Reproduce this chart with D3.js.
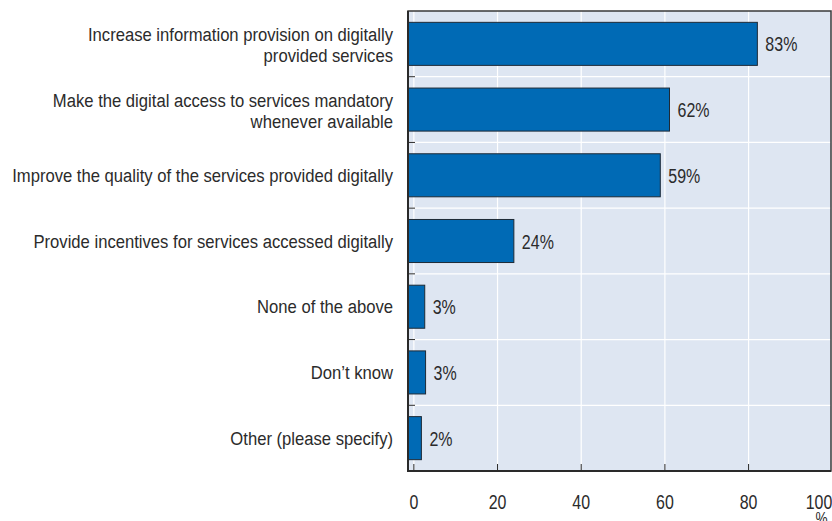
<!DOCTYPE html>
<html>
<head>
<meta charset="utf-8">
<script src="https://cdn.jsdelivr.net/npm/d3@7"></script>
<style>
  html, body { margin: 0; padding: 0; background: #ffffff; }
  svg { display: block; }
  text { font-family: "Liberation Sans", Arial, sans-serif; fill: #2b2b2b; }
</style>
</head>
<body>
<svg id="chart" width="832" height="521"></svg>
<script>
// ---- data ----
const categories = [
  ["Increase information provision on digitally", "provided services"],
  ["Make the digital access to services mandatory", "whenever available"],
  ["Improve the quality of the services provided digitally"],
  ["Provide incentives for services accessed digitally"],
  ["None of the above"],
  ["Don\u2019t know"],
  ["Other (please specify)"]
];
const values = [82.1, 61.1, 58.9, 23.9, 2.6, 2.8, 1.8];
const valueLabels = ["83%", "62%", "59%", "24%", "3%", "3%", "2%"];
const xTicks = [0, 20, 40, 60, 80, 100];
const xUnit = "%";

// ---- layout ----
const plot = { left: 408, right: 831, top: 11, bottom: 471 };
const svg = d3.select("#chart");

const x = d3.scaleLinear().domain([-1.4, 99.7]).range([plot.left, plot.right]);
const y = d3.scaleBand()
  .domain(d3.range(categories.length))
  .range([plot.top, plot.bottom])
  .paddingInner(0.345)
  .paddingOuter(0.1725);

// condensed text helper (horizontal squeeze of a regular face)
function ctext(g, px, py, str, size, sx, anchor) {
  return g.append("text")
    .attr("transform", `translate(${px},${py}) scale(${sx},1)`)
    .attr("text-anchor", anchor || "start")
    .attr("font-size", size)
    .text(str);
}

// background
svg.append("rect")
  .attr("x", plot.left).attr("y", plot.top)
  .attr("width", plot.right - plot.left).attr("height", plot.bottom - plot.top)
  .attr("fill", "#dee6f2");

const innerTicks = xTicks.filter(t => x(t) > plot.left + 2 && x(t) < plot.right - 2);

// vertical gridlines
svg.append("g").selectAll("line")
  .data(innerTicks)
  .join("line")
  .attr("x1", d => x(d)).attr("x2", d => x(d))
  .attr("y1", plot.top).attr("y2", plot.bottom)
  .attr("stroke", "#ffffff").attr("stroke-width", 1.2);

// horizontal gridlines at band boundaries
const step = y.step();
const boundaries = d3.range(1, categories.length).map(i => y(i) - step * y.paddingInner() / 2);
svg.append("g").selectAll("line")
  .data(boundaries)
  .join("line")
  .attr("x1", plot.left).attr("x2", plot.right)
  .attr("y1", d => d).attr("y2", d => d)
  .attr("stroke", "#ffffff").attr("stroke-width", 1.2);

// bars
svg.append("g").selectAll("rect")
  .data(values)
  .join("rect")
  .attr("x", plot.left)
  .attr("y", (d, i) => y(i))
  .attr("width", d => x(d) - plot.left)
  .attr("height", y.bandwidth())
  .attr("fill", "#006ab5")
  .attr("stroke", "#1e2a36")
  .attr("stroke-width", 1);

// value labels
const valG = svg.append("g");
values.forEach((v, i) => {
  ctext(valG, x(v) + 8, y(i) + y.bandwidth() / 2 + 7.5, valueLabels[i], 20.5, 0.78);
});

// frame
svg.append("rect")
  .attr("x", plot.left).attr("y", plot.top)
  .attr("width", plot.right - plot.left).attr("height", plot.bottom - plot.top)
  .attr("fill", "none").attr("stroke", "#3a3a3a").attr("stroke-width", 1.5);
svg.append("line")
  .attr("x1", plot.left).attr("x2", plot.left)
  .attr("y1", plot.top).attr("y2", plot.bottom + 1)
  .attr("stroke", "#2a2a2a").attr("stroke-width", 2);
svg.append("line")
  .attr("x1", plot.left).attr("x2", plot.right)
  .attr("y1", plot.bottom).attr("y2", plot.bottom)
  .attr("stroke", "#2a2a2a").attr("stroke-width", 2);

// left tick marks at band boundaries
svg.append("g").selectAll("line")
  .data(boundaries)
  .join("line")
  .attr("x1", plot.left).attr("x2", plot.left + 7)
  .attr("y1", d => d).attr("y2", d => d)
  .attr("stroke", "#2a2a2a").attr("stroke-width", 1);

// bottom tick marks
svg.append("g").selectAll("line")
  .data(innerTicks)
  .join("line")
  .attr("x1", d => x(d)).attr("x2", d => x(d))
  .attr("y1", plot.bottom).attr("y2", plot.bottom - 7)
  .attr("stroke", "#2a2a2a").attr("stroke-width", 1);

// x tick labels (last one kept against the edge)
const tickG = svg.append("g");
xTicks.forEach((t, i) => {
  const last = i === xTicks.length - 1;
  ctext(tickG, x(t), 509, String(t), 21, 0.76, last ? "end" : "middle");
});
ctext(tickG, 821.5, 524, xUnit, 17, 0.8, "middle");

// category labels
const catG = svg.append("g");
categories.forEach((lines, i) => {
  const cy = y(i) + y.bandwidth() / 2;
  const lh = 21;
  const first = cy + 6.6 - (lines.length - 1) * lh / 2 + (lines.length > 1 ? 1.5 : 0);
  lines.forEach((ln, k) => {
    ctext(catG, 393, first + k * lh, ln, 18.5, 0.9, "end");
  });
});
</script>
</body>
</html>
